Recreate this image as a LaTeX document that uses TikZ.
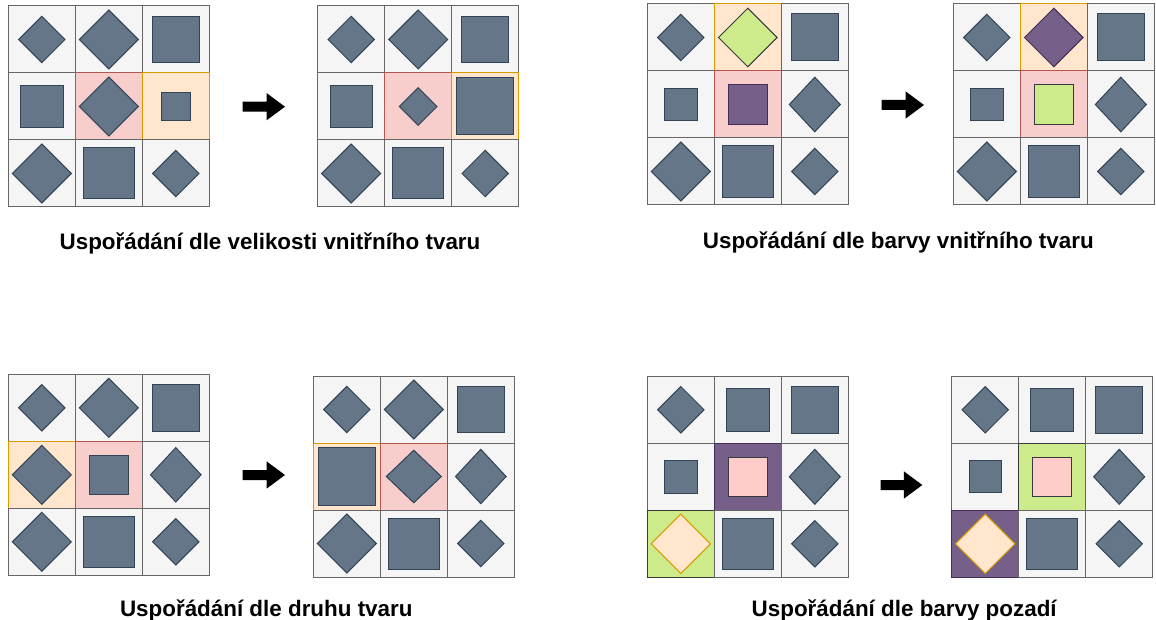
\documentclass[tikz,border=0pt]{standalone}
\usepackage{fontspec}
\setmainfont{Liberation Sans}
\definecolor{gbg}{HTML}{F5F5F5}
\definecolor{gbd}{HTML}{666666}
\definecolor{pbg}{HTML}{F8CECC}
\definecolor{pbd}{HTML}{B85450}
\definecolor{obg}{HTML}{FFE6CC}
\definecolor{obd}{HTML}{D79B00}
\definecolor{shf}{HTML}{647687}
\definecolor{shd}{HTML}{314354}
\definecolor{grf}{HTML}{CDEB8B}
\definecolor{grd}{HTML}{36393D}
\definecolor{puf}{HTML}{76608A}
\definecolor{pud}{HTML}{432D57}
\definecolor{pkf}{HTML}{FFCCCC}
\definecolor{pkd}{HTML}{36393D}
\newcommand\drawgrid[3]{%
\begin{scope}[shift={(#1,#2)}]
\foreach [count=\i from 0] \bgf/\bgd/\sh/\ha/\hb/\shfc/\shdc in {#3}{%
 \pgfmathtruncatemacro\cc{mod(\i,3)}%
 \pgfmathtruncatemacro\rr{div(\i,3)}%
 \filldraw[fill=\bgf,draw=\bgd,line width=1pt] (67*\cc,67*\rr) rectangle ++(67,67);
 \pgfmathsetmacro\cx{67*\cc+33.5}%
 \pgfmathsetmacro\cy{67*\rr+33.5}%
 \if\sh D
  \filldraw[fill=\shfc,draw=\shdc,line width=1pt] (\cx-\ha,\cy) -- (\cx,\cy-\hb) -- (\cx+\ha,\cy) -- (\cx,\cy+\hb) -- cycle;
 \else
  \filldraw[fill=\shfc,draw=\shdc,line width=1pt] (\cx-\ha,\cy-\hb) rectangle (\cx+\ha,\cy+\hb);
 \fi
}
\end{scope}}
\newcommand\blockarrow[3]{% x y length
 \fill[black] (#1,#2-5) -- (#1+#3-18.5,#2-5) -- (#1+#3-18.5,#2-13.7) -- (#1+#3,#2) -- (#1+#3-18.5,#2+13.7) -- (#1+#3-18.5,#2+5) -- (#1,#2+5) -- cycle;}
\tikzset{caption/.style={anchor=base,inner sep=0pt,font=\fontsize{22.4}{26}\selectfont\bfseries}}
\begin{document}
\begin{tikzpicture}[x=1pt,y=-1pt]
\useasboundingbox (0,0) rectangle (1156,620);
% Panel 1
\drawgrid{8.3}{6}{gbg/gbd/D/23.2/23.2/shf/shd, gbg/gbd/D/29.5/29.5/shf/shd, gbg/gbd/S/23.4/23.4/shf/shd,
 gbg/gbd/S/21.2/21.2/shf/shd, pbg/pbd/D/29.5/29.5/shf/shd, obg/obd/S/14.4/14.4/shf/shd,
 gbg/gbd/D/29.5/29.5/shf/shd, gbg/gbd/S/25.5/25.5/shf/shd, gbg/gbd/D/23.2/23.2/shf/shd}
\blockarrow{242.7}{106.7}{42.3}
\drawgrid{317.7}{6}{gbg/gbd/D/23.2/23.2/shf/shd, gbg/gbd/D/29.5/29.5/shf/shd, gbg/gbd/S/23.4/23.4/shf/shd,
 gbg/gbd/S/21.2/21.2/shf/shd, pbg/pbd/D/18.8/18.8/shf/shd, obg/obd/S/28.5/28.5/shf/shd,
 gbg/gbd/D/29.5/29.5/shf/shd, gbg/gbd/S/25.5/25.5/shf/shd, gbg/gbd/D/23.2/23.2/shf/shd}
\node[caption] (cap1) at (270,249.3) {Uspořádání dle velikosti vnitřního tvaru};
% Panel 2
\drawgrid{647.3}{4}{gbg/gbd/D/23.2/23.2/shf/shd, obg/obd/D/29.3/29.3/grf/grd, gbg/gbd/S/23.5/23.5/shf/shd,
 gbg/gbd/S/16.2/16.2/shf/shd, pbg/pbd/S/19.8/19.8/puf/pud, gbg/gbd/D/25.5/27.3/shf/shd,
 gbg/gbd/D/29.5/29.5/shf/shd, gbg/gbd/S/25.6/25.6/shf/shd, gbg/gbd/D/23.2/23.2/shf/shd}
\blockarrow{881.7}{105}{42.3}
\drawgrid{953.3}{4}{gbg/gbd/D/23.2/23.2/shf/shd, obg/obd/D/29.3/29.3/puf/pud, gbg/gbd/S/23.5/23.5/shf/shd,
 gbg/gbd/S/16.2/16.2/shf/shd, pbg/pbd/S/19.7/19.7/grf/grd, gbg/gbd/D/25.5/27.3/shf/shd,
 gbg/gbd/D/29.5/29.5/shf/shd, gbg/gbd/S/25.6/25.6/shf/shd, gbg/gbd/D/23.2/23.2/shf/shd}
\node[caption] (cap2) at (898.3,248.7) {Uspořádání dle barvy vnitřního tvaru};
% Panel 3
\drawgrid{8.3}{374.3}{gbg/gbd/D/23.2/23.2/shf/shd, gbg/gbd/D/29.5/29.5/shf/shd, gbg/gbd/S/23.4/23.4/shf/shd,
 obg/obd/D/29.5/29.5/shf/shd, pbg/pbd/S/19.5/19.5/shf/shd, gbg/gbd/D/25.3/27.2/shf/shd,
 gbg/gbd/D/29.5/29.5/shf/shd, gbg/gbd/S/25.4/25.4/shf/shd, gbg/gbd/D/23.2/23.2/shf/shd}
\blockarrow{242.7}{475}{42.3}
\drawgrid{313.3}{376}{gbg/gbd/D/23.2/23.2/shf/shd, gbg/gbd/D/29.5/29.5/shf/shd, gbg/gbd/S/23.4/23.4/shf/shd,
 obg/obd/S/28.8/28.8/shf/shd, pbg/pbd/D/27.5/26.3/shf/shd, gbg/gbd/D/25.3/27.2/shf/shd,
 gbg/gbd/D/29.5/29.5/shf/shd, gbg/gbd/S/25.5/25.5/shf/shd, gbg/gbd/D/23.2/23.2/shf/shd}
\node[caption] (cap3) at (266.3,616) {Uspořádání dle druhu tvaru};
% Panel 4
\drawgrid{647.3}{376.3}{gbg/gbd/D/23.2/23.2/shf/shd, gbg/gbd/S/21.3/21.3/shf/shd, gbg/gbd/S/23.5/23.5/shf/shd,
 gbg/gbd/S/16.2/16.2/shf/shd, puf/pud/S/19.5/19.5/pkf/pkd, gbg/gbd/D/25.5/27.5/shf/shd,
 grf/grd/D/29.7/29.7/obg/obd, gbg/gbd/S/25.6/25.6/shf/shd, gbg/gbd/D/23.2/23.2/shf/shd}
\blockarrow{880.7}{485}{41.6}
\drawgrid{951.7}{376.3}{gbg/gbd/D/23.2/23.2/shf/shd, gbg/gbd/S/21.4/21.4/shf/shd, gbg/gbd/S/23.5/23.5/shf/shd,
 gbg/gbd/S/16.1/16.1/shf/shd, grf/grd/S/19.5/19.5/pkf/pkd, gbg/gbd/D/25.5/27.5/shf/shd,
 puf/pud/D/29.7/29.7/obg/obd, gbg/gbd/S/25.5/25.5/shf/shd, gbg/gbd/D/23.2/23.2/shf/shd}
\node[caption] (cap4) at (904.2,616) {Uspořádání dle barvy pozadí};
\end{tikzpicture}
\end{document}
